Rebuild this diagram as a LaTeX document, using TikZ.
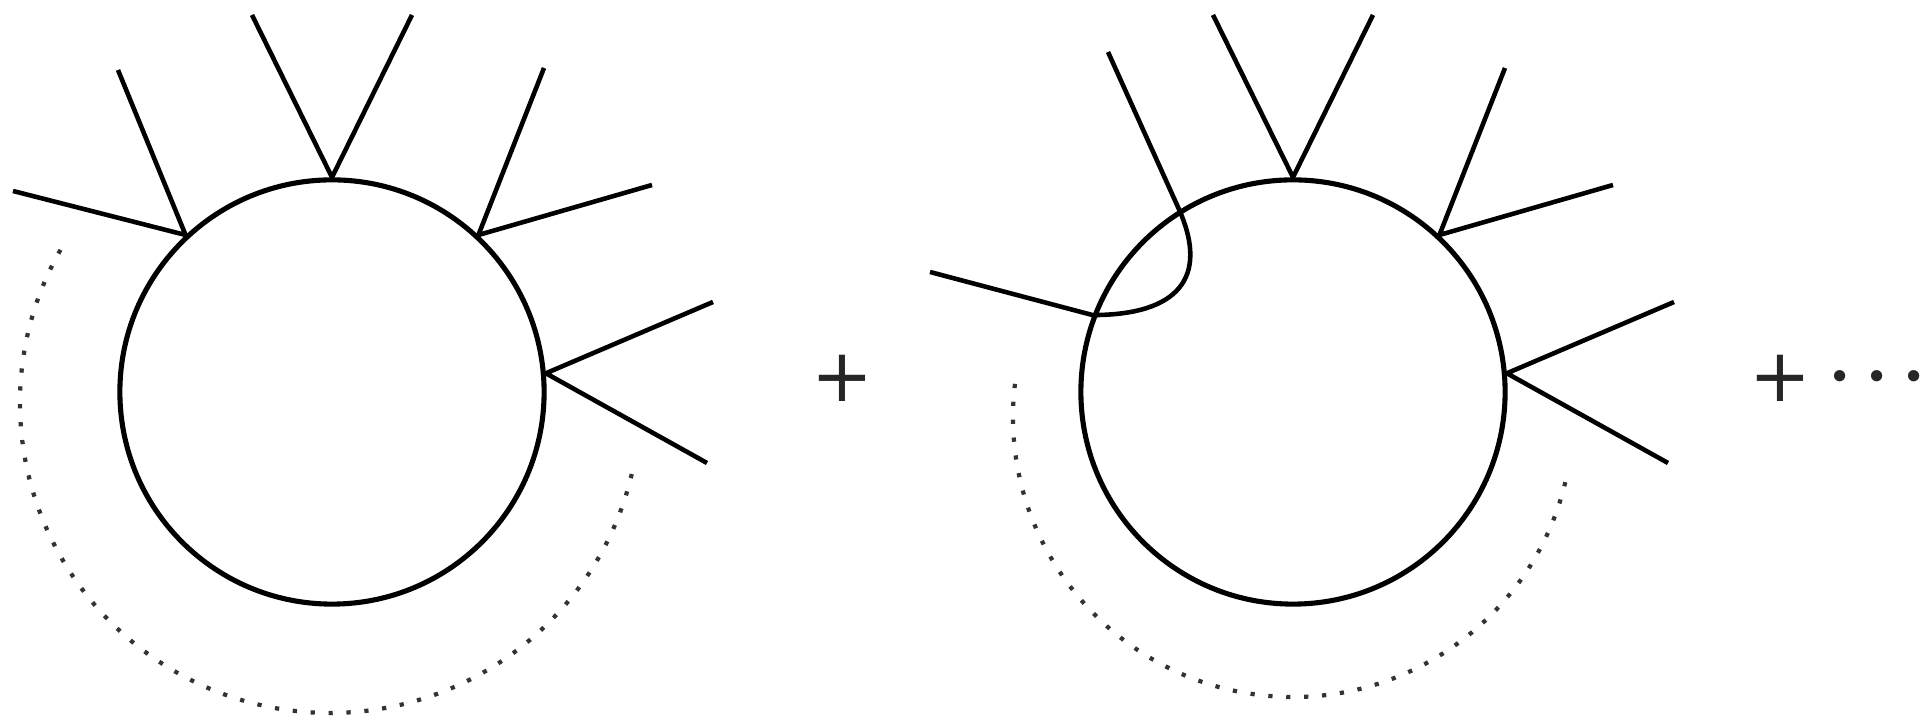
\documentclass[tikz,border=0pt]{standalone}
\usepackage{amsmath,amssymb}
\usepackage{fontspec}
\newfontfamily\plusfont{DejaVu Sans}
\usepackage{tikz}

\begin{document}
\begin{tikzpicture}[x=0.01cm,y=0.01cm,
    loopc/.style={circle,draw,line width=1.45pt,minimum size=4.24cm,inner sep=0pt},
    leg/.style={line width=1.3pt,line join=miter},
    dotarc/.style={line width=1.2pt,dash pattern=on 1.2pt off 3.9pt,black!80},
    plussym/.style={font=\plusfont\fontsize{21}{25}\selectfont,inner sep=0pt,text=black!85},
    bigsym/.style={font=\fontsize{20}{24}\selectfont,inner sep=0pt,anchor=base,text=black!85}]
    \useasboundingbox (0,0) rectangle (1924,725);
    % first diagram
    \node[loopc] (c1) at (332,333) {};
    \coordinate (c1t1) at (252,710); \coordinate (c1t2) at (412,710);
    \coordinate (c1a1) at (118,655); \coordinate (c1a2) at (13,534);
    \coordinate (c1b1) at (544,657); \coordinate (c1b2) at (652,540);
    \coordinate (c1d1) at (713,423); \coordinate (c1d2) at (707,262);
    \draw[leg] (c1t1) -- (c1.90) -- (c1t2);
    \draw[leg] (c1a1) -- (c1.133) -- (c1a2);
    \draw[leg] (c1b1) -- (c1.47) -- (c1b2);
    \draw[leg] (c1d1) -- (c1.5.6) -- (c1d2);
    \coordinate (m1) at (330,322);
    \draw[dotarc] (m1) ++(150.4:310) arc (150.4:346.9:310);
    \node[plussym] (plus1) at (842,347) {+};
    % second diagram
    \node[loopc] (c2) at (1293,333) {};
    \coordinate (c2t1) at (1213,710); \coordinate (c2t2) at (1373,710);
    \coordinate (c2b1) at (1505,657); \coordinate (c2b2) at (1613,540);
    \coordinate (c2d1) at (1674,423); \coordinate (c2d2) at (1668,262);
    \coordinate (c2e) at (1108,673); \coordinate (c2f) at (930,453);
    \draw[leg] (c2t1) -- (c2.90) -- (c2t2);
    \draw[leg] (c2b1) -- (c2.47) -- (c2b2);
    \draw[leg] (c2d1) -- (c2.5.6) -- (c2d2);
    \draw[leg] (c2e) -- (c2.122.6) .. controls +(30,-68) and +(85,0) .. (c2.159) -- (c2f);
    \coordinate (m2) at (1293,308);
    \draw[dotarc] (m2) ++(173.2:280) arc (173.2:348.3:280);
    \node[plussym] (plus2) at (1780,347) {+};
    \node[bigsym] (dots2) at (1884,330) {$\boldsymbol{\cdots}$};
\end{tikzpicture}
\end{document}
